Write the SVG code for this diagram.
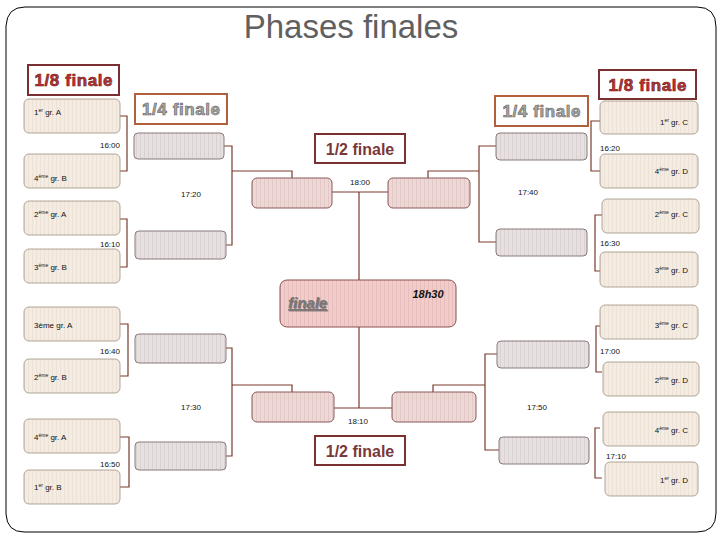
<svg xmlns="http://www.w3.org/2000/svg" width="720" height="540" viewBox="0 0 720 540">
<defs>
<pattern id="stB" width="4" height="10" patternUnits="userSpaceOnUse"><rect width="4" height="10" fill="#f4ece2"/><rect width="1" height="10" fill="#ece2d6"/></pattern>
<pattern id="stG" width="4" height="10" patternUnits="userSpaceOnUse"><rect width="4" height="10" fill="#e6e0e0"/><rect width="1" height="10" fill="#dad2d2"/></pattern>
<pattern id="stP" width="4" height="10" patternUnits="userSpaceOnUse"><rect width="4" height="10" fill="#eed8d6"/><rect width="1" height="10" fill="#e2c8c6"/></pattern>
<pattern id="stF" width="4" height="10" patternUnits="userSpaceOnUse"><rect width="4" height="10" fill="#f2cccb"/><rect width="1" height="10" fill="#e8bebd"/></pattern>
</defs>
<style>
text{font-family:"Liberation Sans",Arial,sans-serif}
.b8{fill:url(#stB);stroke:#a09080;stroke-width:0.8}
.qf{fill:url(#stG);stroke:#8a7a7a;stroke-width:1}
.sf{fill:url(#stP);stroke:#8a5a5a;stroke-width:1}
.lb{font-size:8px;fill:#111}
.lbr{font-size:8px;fill:#111;text-anchor:end}
.sup{font-size:5px}
.tm{font-size:8px;fill:#111}
.c{fill:none;stroke:#7a3a2a;stroke-width:1.2}
.h8{fill:#fff;stroke:#7a3030;stroke-width:2}
.h4{fill:#fff;stroke:#b0603a;stroke-width:2}
.t8{font-size:17px;font-weight:bold;fill:#c83030;stroke:#5a1a1a;stroke-width:0.6;text-anchor:middle}
.t4{font-size:17px;font-weight:bold;fill:#a8a8a8;stroke:#606060;stroke-width:0.6;text-anchor:middle}
.t2{font-size:16px;font-weight:bold;fill:#7a3838;text-anchor:middle}
</style>
<path d="M25,7 H697 Q716,7 716,27 V513 Q716,532 697,532 H24 Q7,532 6,514 V26 Q7,7 25,7 Z" fill="#fff" stroke="#000" stroke-width="1"/>
<text x="351" y="38" font-size="33" fill="#606060" text-anchor="middle">Phases finales</text>

<g id="headers">
<rect class="h8" x="28" y="65" width="91" height="30"/><text class="t8" x="73.5" y="86" textLength="78">1/8 finale</text>
<rect class="h8" x="599" y="70" width="97" height="29"/><text class="t8" x="647.5" y="91" textLength="78">1/8 finale</text>
<rect class="h4" x="135" y="94" width="92" height="30"/><text class="t4" x="181" y="115" textLength="78">1/4 finale</text>
<rect class="h4" x="495" y="96" width="93" height="30"/><text class="t4" x="541.5" y="117" textLength="78">1/4 finale</text>
<rect class="h8" x="315" y="134" width="90" height="29"/><text class="t2" x="360" y="155">1/2 finale</text>
<rect class="h8" x="315" y="436" width="90" height="29"/><text class="t2" x="360" y="457">1/2 finale</text>
</g>

<g id="connectors">
<path class="c" d="M120,116 H127 V171 H120"/>
<path class="c" d="M120,219 H127 V267 H120"/>
<path class="c" d="M120,324 H128 V376 H120"/>
<path class="c" d="M120,437 H129 V487 H120"/>
<path class="c" d="M600,121 H591 V171 H600"/>
<path class="c" d="M602,215 H595 V271 H600"/>
<path class="c" d="M600,326 H596 V372 H602"/>
<path class="c" d="M600,428 H595 V478 H602"/>
<path class="c" d="M224,146 H232 V245 H226 M232,171 H292 V178"/>
<path class="c" d="M496,146 H479 V242 H496 M479,171 H428 V178"/>
<path class="c" d="M226,348 H232 V456 H226 M232,385 H292 V392"/>
<path class="c" d="M497,354 H485 V450 H499 M485,385 H433 V392"/>
<path class="c" d="M332,192 H388 M359,192 V280"/>
<path class="c" d="M334,408 H392 M359,408 V327"/>
</g>

<g id="r8-left">
<rect class="b8" x="24" y="99" width="96" height="34" rx="5"/><text class="lb" x="34" y="115">1<tspan class="sup" dy="-3">er</tspan><tspan dy="3"> gr. A</tspan></text>
<rect class="b8" x="24" y="154" width="96" height="34" rx="5"/><text class="lb" x="34" y="181">4<tspan class="sup" dy="-3">ème</tspan><tspan dy="3"> gr. B</tspan></text>
<rect class="b8" x="24" y="201" width="96" height="34" rx="5"/><text class="lb" x="34" y="217">2<tspan class="sup" dy="-3">ème</tspan><tspan dy="3"> gr. A</tspan></text>
<rect class="b8" x="24" y="249" width="96" height="34" rx="5"/><text class="lb" x="34" y="270">3<tspan class="sup" dy="-3">ème</tspan><tspan dy="3"> gr. B</tspan></text>
<rect class="b8" x="24" y="307" width="96" height="34" rx="5"/><text class="lb" x="34" y="328">3ème gr. A</text>
<rect class="b8" x="24" y="359" width="96" height="34" rx="5"/><text class="lb" x="34" y="380">2<tspan class="sup" dy="-3">ème</tspan><tspan dy="3"> gr. B</tspan></text>
<rect class="b8" x="24" y="419" width="96" height="34" rx="5"/><text class="lb" x="34" y="440">4<tspan class="sup" dy="-3">ème</tspan><tspan dy="3"> gr. A</tspan></text>
<rect class="b8" x="24" y="470" width="96" height="34" rx="5"/><text class="lb" x="34" y="490">1<tspan class="sup" dy="-3">er</tspan><tspan dy="3"> gr. B</tspan></text>
</g>
<g id="r8-right">
<rect class="b8" x="600" y="101" width="98" height="33" rx="5"/><text class="lbr" x="688" y="125">1<tspan class="sup" dy="-3">er</tspan><tspan dy="3"> gr. C</tspan></text>
<rect class="b8" x="600" y="154" width="98" height="34" rx="5"/><text class="lbr" x="688" y="174">4<tspan class="sup" dy="-3">ème</tspan><tspan dy="3"> gr. D</tspan></text>
<rect class="b8" x="602" y="199" width="97" height="34" rx="5"/><text class="lbr" x="688" y="217">2<tspan class="sup" dy="-3">ème</tspan><tspan dy="3"> gr. C</tspan></text>
<rect class="b8" x="600" y="252" width="98" height="35" rx="5"/><text class="lbr" x="688" y="273">3<tspan class="sup" dy="-3">ème</tspan><tspan dy="3"> gr. D</tspan></text>
<rect class="b8" x="600" y="305" width="98" height="34" rx="5"/><text class="lbr" x="688" y="328">3<tspan class="sup" dy="-3">ème</tspan><tspan dy="3"> gr. C</tspan></text>
<rect class="b8" x="603" y="362" width="96" height="34" rx="5"/><text class="lbr" x="688" y="383">2<tspan class="sup" dy="-3">ème</tspan><tspan dy="3"> gr. D</tspan></text>
<rect class="b8" x="603" y="412" width="96" height="34" rx="5"/><text class="lbr" x="688" y="433">4<tspan class="sup" dy="-3">ème</tspan><tspan dy="3"> gr. C</tspan></text>
<rect class="b8" x="605" y="462" width="93" height="34" rx="5"/><text class="lbr" x="688" y="483">1<tspan class="sup" dy="-3">er</tspan><tspan dy="3"> gr. D</tspan></text>
</g>
<g id="qf">
<rect class="qf" x="134" y="133" width="90" height="26" rx="4"/>
<rect class="qf" x="135" y="231" width="91" height="28" rx="4"/>
<rect class="qf" x="135" y="334" width="91" height="29" rx="4"/>
<rect class="qf" x="135" y="442" width="91" height="28" rx="4"/>
<rect class="qf" x="496" y="133" width="91" height="27" rx="4"/>
<rect class="qf" x="496" y="229" width="91" height="27" rx="4"/>
<rect class="qf" x="497" y="341" width="92" height="27" rx="4"/>
<rect class="qf" x="499" y="437" width="90" height="27" rx="4"/>
</g>
<g id="sf">
<rect class="sf" x="252" y="178" width="80" height="30" rx="5"/>
<rect class="sf" x="388" y="178" width="82" height="30" rx="5"/>
<rect class="sf" x="252" y="392" width="82" height="30" rx="5"/>
<rect class="sf" x="392" y="392" width="84" height="30" rx="5"/>
</g>
<g id="final">
<rect x="280" y="280" width="176" height="47" rx="7" fill="url(#stF)" stroke="#8a5050"/>
<text x="289" y="309" font-size="15" font-weight="bold" font-style="italic" fill="#333" opacity="0.5" text-decoration="underline">finale</text>
<text x="288" y="308" font-size="15" font-weight="bold" font-style="italic" fill="#777" text-decoration="underline">finale</text>
<text x="428" y="298" font-size="11" font-weight="bold" font-style="italic" fill="#111" text-anchor="middle">18h30</text>
</g>
<g id="times">
<text class="tm" x="120" y="148" text-anchor="end">16:00</text>
<text class="tm" x="120" y="247" text-anchor="end">16:10</text>
<text class="tm" x="120" y="354" text-anchor="end">16:40</text>
<text class="tm" x="120" y="467" text-anchor="end">16:50</text>
<text class="tm" x="600" y="151">16:20</text>
<text class="tm" x="600" y="246">16:30</text>
<text class="tm" x="600" y="354">17:00</text>
<text class="tm" x="606" y="459">17:10</text>
<text class="tm" x="191" y="197" text-anchor="middle">17:20</text>
<text class="tm" x="528" y="195" text-anchor="middle">17:40</text>
<text class="tm" x="191" y="410" text-anchor="middle">17:30</text>
<text class="tm" x="537" y="410" text-anchor="middle">17:50</text>
<text class="tm" x="360" y="185" text-anchor="middle">18:00</text>
<text class="tm" x="358" y="424" text-anchor="middle">18:10</text>
</g>
</svg>
